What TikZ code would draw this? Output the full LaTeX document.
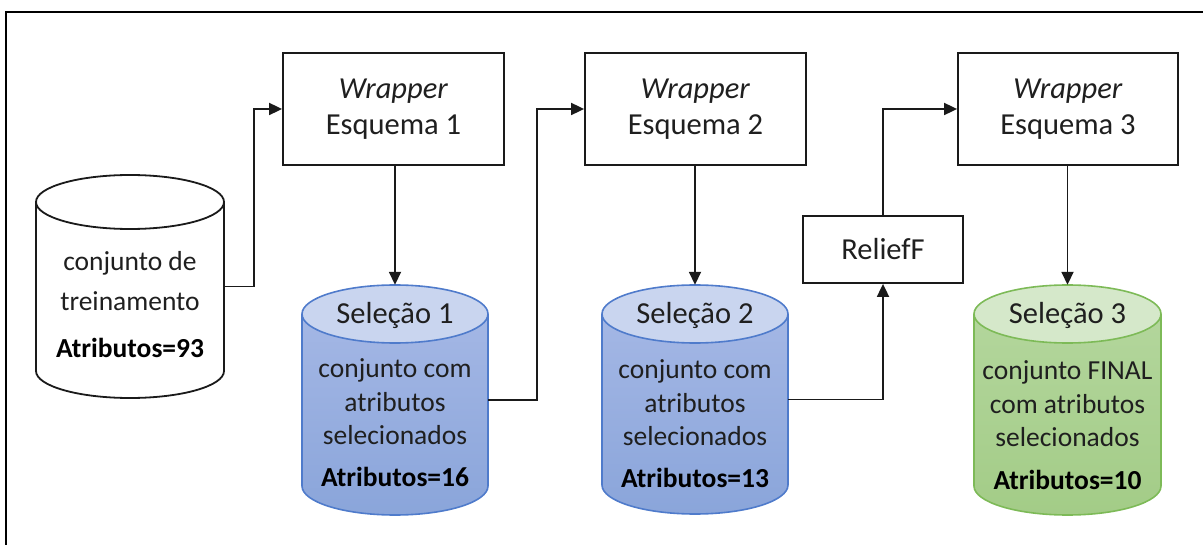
\documentclass[tikz,border=0pt]{standalone}
\usepackage{fontspec}
\setmainfont{Carlito}
\usetikzlibrary{arrows.meta}

\definecolor{inkgray}{HTML}{1F1F1F}
\definecolor{linegray}{HTML}{1A1A1A}
\definecolor{bluebodytop}{HTML}{A4B7E5}
\definecolor{bluebodybot}{HTML}{8AA5DA}
\definecolor{bluecap}{HTML}{C9D5EF}
\definecolor{blueedge}{HTML}{4F7BCB}
\definecolor{greenbodytop}{HTML}{B3D69C}
\definecolor{greenbodybot}{HTML}{A3CC87}
\definecolor{greencap}{HTML}{D5E8CA}
\definecolor{greenedge}{HTML}{7DBA57}

\tikzset{
  procbox/.style={draw=linegray, line width=1.8pt, fill=white, inner sep=0pt,
    minimum height=112pt, text=inkgray, align=center,
    font=\fontsize{30.5}{36}\selectfont},
  conn/.style={draw=linegray, line width=1.8pt,
    -{Triangle[length=13pt,width=12pt]}},
  titletext/.style={text=inkgray, inner sep=0pt, font=\fontsize{30.5}{36}\selectfont},
  desctext/.style={text=inkgray, inner sep=0pt, align=center},
  counttext/.style={text=black, inner sep=0pt, font=\fontsize{27.5}{32}\selectfont\bfseries},
  anchorbox/.style={inner sep=0pt, draw=none},
  % cylinder colour schemes
  plainbody/.style={fill=white},
  plaincap/.style={fill=white},
  plainedge/.style={draw=linegray, line width=1.8pt},
  bluebody/.style={top color=bluebodytop, bottom color=bluebodybot},
  bluecapfill/.style={fill=bluecap},
  blueline/.style={draw=blueedge, line width=1.6pt},
  greenbody/.style={top color=greenbodytop, bottom color=greenbodybot},
  greencapfill/.style={fill=greencap},
  greenline/.style={draw=greenedge, line width=1.6pt},
}

% database drum: name, centre x, top y, bottom y, x radius, y radius, body, cap, edge
\newcommand\dbdrum[9]{%
  \path[#7] ({#2-#5},{-(#3+#6)}) -- ({#2-#5},{-(#4-#6)})
     arc[start angle=180, end angle=360, x radius=#5, y radius=#6]
     -- ({#2+#5},{-(#3+#6)}) -- cycle;
  \path[#9] ({#2-#5},{-(#3+#6)}) -- ({#2-#5},{-(#4-#6)})
     arc[start angle=180, end angle=360, x radius=#5, y radius=#6]
     -- ({#2+#5},{-(#3+#6)});
  \path[#8,#9] (#2,{-(#3+#6)}) ellipse[x radius=#5, y radius=#6];
  \node[anchorbox, minimum width=2*#5pt, minimum height={(#4-#3)*1pt}]
     (#1) at (#2,{-(#3+#4)/2}) {};
}

\begin{document}
\begin{tikzpicture}[x=1pt,y=1pt]
\useasboundingbox (0,0) rectangle (1203,-545);

% outer frame
\draw[black, line width=2.4pt] (6,-545) -- (6,-12) -- (1203,-12);

% wrapper stages and the ReliefF filter
\node[procbox, minimum width=221pt] (b1) at (393.5,-109) {\textit{Wrapper}\\Esquema 1};
\node[procbox, minimum width=221pt] (b2) at (695.5,-109) {\textit{Wrapper}\\Esquema 2};
\node[procbox, minimum width=220pt] (b3) at (1068,-109) {\textit{Wrapper}\\Esquema 3};
\node[procbox, minimum width=160pt, minimum height=67pt] (rf) at (883,-249.5) {ReliefF};

% data sets
\dbdrum{c0}{130}{175}{398}{94}{27}{plainbody}{plaincap}{plainedge}
\dbdrum{c1}{395}{285}{515}{93}{29}{bluebody}{bluecapfill}{blueline}
\dbdrum{c2}{695}{285}{514}{93}{29}{bluebody}{bluecapfill}{blueline}
\dbdrum{c3}{1067.5}{285}{515}{93.5}{29}{greenbody}{greencapfill}{greenline}

% texts of the data sets
\node[desctext, font=\fontsize{27.5}{40}\selectfont] (t0) at (130,-281) {conjunto de\\treinamento};
\node[counttext] (n0) at (130,-348) {Atributos=93};

\node[titletext] (s1) at (395,-315) {Seleção 1};
\node[desctext, font=\fontsize{27.5}{33.5}\selectfont] (t1) at (395,-402) {conjunto com\\atributos\\selecionados};
\node[counttext] (n1) at (395,-477) {Atributos=16};

\node[titletext] (s2) at (695,-315) {Seleção 2};
\node[desctext, font=\fontsize{27.5}{33.5}\selectfont] (t2) at (695,-403) {conjunto com\\atributos\\selecionados};
\node[counttext] (n2) at (695,-478) {Atributos=13};

\node[titletext] (s3) at (1067.5,-315) {Seleção 3};
\node[desctext, font=\fontsize{27.5}{33.5}\selectfont] (t3) at (1067.5,-404) {conjunto FINAL\\com atributos\\selecionados};
\node[counttext] (n3) at (1067.5,-480) {Atributos=10};

% flow
\draw[conn] (c0.east) -- ++(30,0) |- (b1.west);
\draw[conn] (b1.south -| c1.north) -- (c1.north);
\draw[conn] (c1.east) -- ++(49,0) |- (b2.west);
\draw[conn] (b2.south -| c2.north) -- (c2.north);
\draw[conn] (c2.east) -| (rf.south);
\draw[conn] (rf.north) |- (b3.west);
\draw[conn] (b3.south -| c3.north) -- (c3.north);
\end{tikzpicture}
\end{document}
